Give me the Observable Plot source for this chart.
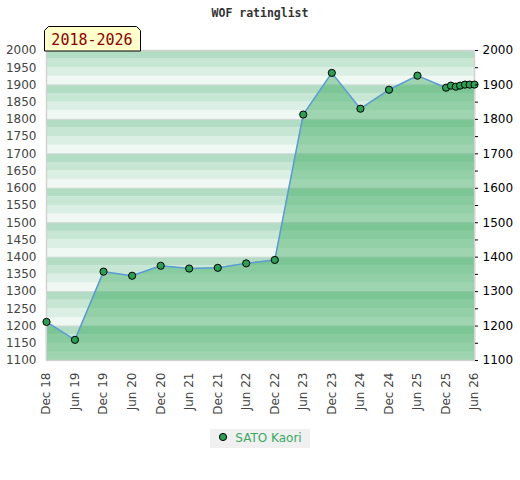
<!DOCTYPE html>
<html>
<head>
<meta charset="utf-8">
<script src="https://cdn.jsdelivr.net/npm/d3@7"></script>
<script src="https://cdn.jsdelivr.net/npm/@observablehq/plot@0.6"></script>
<style>
  body { margin: 0; background: #fff; font-family: "DejaVu Sans", sans-serif; }
  #wrap { position: relative; width: 520px; height: 480px; }
  #title { height: 20px; text-align: center; font: bold 11.5px "DejaVu Sans Mono", monospace; color: #333; line-height: 26px; }
  #badge { position: absolute; left: 44px; top: 26px; }
  #legend { text-align: center; margin-top: 7px; }
  #legend span.box { display: inline-block; background: #f0f0f0; padding: 2px 8px 3px 7px; font-size: 12px; color: #3aa860; }
</style>
</head>
<body>
<div id="wrap">
  <div id="title">WOF ratinglist</div>
  <div id="chart"></div>
  <svg id="badge" width="98" height="26">
    <polygon points="4.5,0.5 92.5,0.5 96.5,4.5 96.5,25 0.5,25 0.5,4.5" fill="#ffffcc" stroke="#000" stroke-width="1"></polygon>
    <text x="48" y="19" text-anchor="middle" font-family="DejaVu Sans Mono, monospace" font-size="15" fill="#8b0000">2018-2026</text>
  </svg>
  <div id="legend"><span class="box"><svg width="12" height="12" style="vertical-align:-1px;margin-right:6px"><circle cx="6" cy="6" r="3.6" fill="#2e9e55" stroke="#000" stroke-width="1"></circle></svg>SATO Kaori</span></div>
</div>
<script>
const dates = ["2018-12","2019-06","2019-12","2020-06","2020-12","2021-06","2021-12","2022-06","2022-12","2023-06","2023-12","2024-06","2024-12","2025-06","2025-12","2026-01","2026-02","2026-03","2026-04","2026-05","2026-06"];
const ratings = [1212,1160,1358,1346,1375,1367,1369,1382,1392,1814,1935,1831,1886,1927,1892,1898,1895,1898,1901,1901,1901];
const xTicks = ["2018-12","2019-06","2019-12","2020-06","2020-12","2021-06","2021-12","2022-06","2022-12","2023-06","2023-12","2024-06","2024-12","2025-06","2025-12","2026-06"];
const leftTicks = [1100,1150,1200,1250,1300,1350,1400,1450,1500,1550,1600,1650,1700,1750,1800,1850,1900,1950,2000];
const rightTicks = [1100,1200,1300,1400,1500,1600,1700,1800,1900,2000];
const yMin = 1100, yMax = 2000;
const bandShades = {75: "#b2dcc4", 50: "#c7e6d3", 25: "#dcefe4", 0: "#f0f8f3"};

const parse = d3.utcParse("%Y-%m");
const data = dates.map((d, i) => ({date: parse(d), rating: ratings[i]}));
const tickDates = xTicks.map(parse);
const bands = d3.range(yMin, yMax, 25).map(lo => ({lo, hi: lo + 25, fill: bandShades[(lo - yMin) % 100]}));
const edges = [data[0], data[data.length - 1]];

const chart = Plot.plot({
  width: 520,
  height: 400,
  marginTop: 30,
  marginLeft: 46,
  marginRight: 46,
  marginBottom: 60,
  style: {fontFamily: "DejaVu Sans, sans-serif", fontSize: "12px", background: "transparent"},
  x: {type: "utc", domain: [data[0].date, data[data.length - 1].date]},
  y: {domain: [yMin, yMax]},
  marks: [
    Plot.rect(bands, {y1: "lo", y2: "hi", fill: "fill"}),
    Plot.ruleY(rightTicks, {stroke: "#d3dbd6", strokeWidth: 1}),
    Plot.areaY(data, {x: "date", y1: yMin, y2: "rating", fill: "#3aaa60", fillOpacity: 0.45}),
    Plot.ruleX(edges, {x: "date", y1: yMin, y2: "rating", stroke: "#2e9050", strokeWidth: 1.2}),
    Plot.frame({stroke: "#d2d2d2", strokeWidth: 1.5}),
    Plot.line(data, {x: "date", y: "rating", stroke: "#5b9bd5", strokeWidth: 1.5}),
    Plot.dot(data, {x: "date", y: "rating", r: 3.6, fill: "#2e9e55", stroke: "#000", strokeWidth: 1}),
    Plot.axisY(leftTicks, {anchor: "left", tickSize: 0, tickPadding: 10, fill: "#444", fontSize: 12, tickFormat: d => String(d), label: null}),
    Plot.axisY(leftTicks, {anchor: "right", tickSize: 3, tickFormat: () => "", label: null}),
    Plot.axisY(rightTicks, {anchor: "right", tickSize: 0, tickPadding: 8, fill: "#000", fontSize: 12, tickFormat: d => String(d), label: null}),
    Plot.axisX(tickDates, {anchor: "bottom", tickSize: 0, tickPadding: 12, tickRotate: -90, fill: "#444", fontSize: 12, tickFormat: d3.utcFormat("%b %y"), label: null})
  ]
});
document.getElementById("chart").appendChild(chart);
</script>
</body>
</html>
